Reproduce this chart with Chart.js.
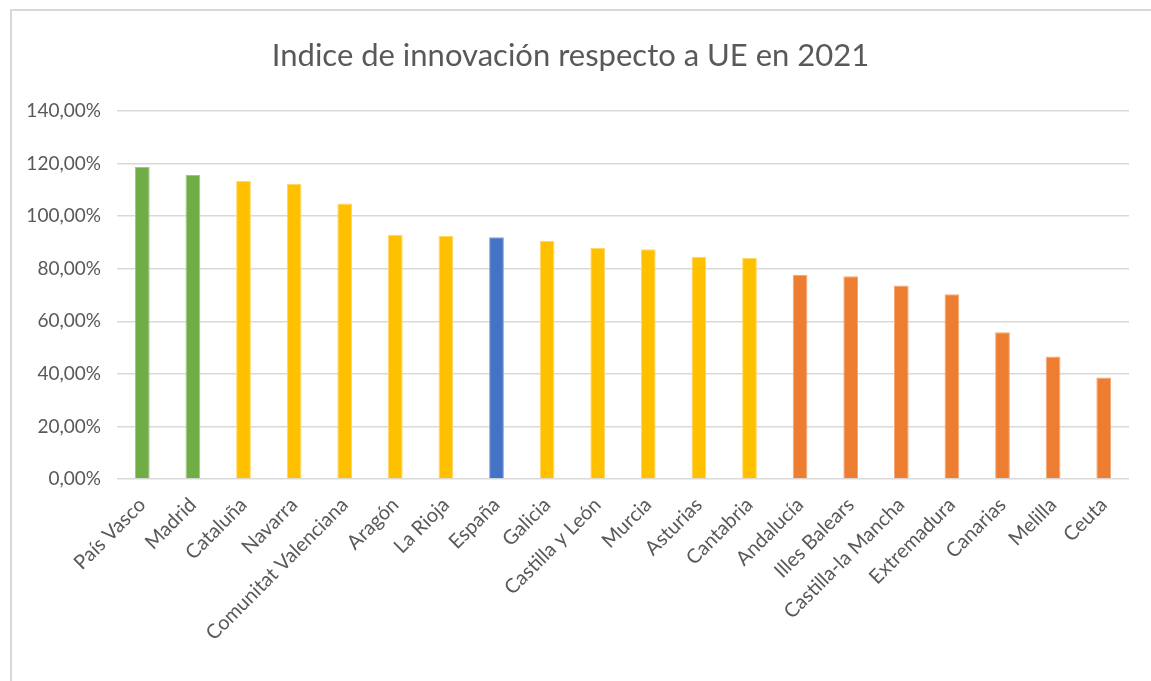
<!DOCTYPE html>
<html>
<head>
<meta charset="utf-8">
<script src="https://cdn.jsdelivr.net/npm/chart.js@4"></script>
<style>
  html, body { margin: 0; padding: 0; background: #fff; }
  #wrap { position: absolute; left: 0; top: 0; width: 1151px; height: 681px; }
  #frame { position: absolute; left: 10px; top: 9px; width: 1141px; height: 672px;
           border-top: 2px solid #d9d9d9; border-left: 2px solid #d9d9d9; box-sizing: border-box; }
</style>
</head>
<body>
<div id="wrap">
  <div id="frame"></div>
  <canvas id="innovChart" width="1151" height="681"></canvas>
</div>
<script>
const regions = ['País Vasco', 'Madrid', 'Cataluña', 'Navarra', 'Comunitat Valenciana', 'Aragón', 'La Rioja',
  'España', 'Galicia', 'Castilla y León', 'Murcia', 'Asturias', 'Cantabria', 'Andalucía', 'Illes Balears',
  'Castilla-la Mancha', 'Extremadura', 'Canarias', 'Melilla', 'Ceuta'];
const index2021 = [118.8, 115.7, 113.4, 112.3, 104.9, 93.0, 92.5, 92.0, 90.6, 88.0, 87.5, 84.6, 84.1,
  77.7, 77.2, 73.7, 70.3, 55.9, 46.6, 38.6];
const groups = ['top', 'top', 'mid', 'mid', 'mid', 'mid', 'mid', 'spain', 'mid', 'mid', 'mid', 'mid', 'mid',
  'low', 'low', 'low', 'low', 'low', 'low', 'low'];
const yTicks = [0, 20, 40, 60, 80, 100, 120, 140];

const groupColors = { top: '#70AD47', mid: '#FFC000', spain: '#4472C4', low: '#ED7D31' };
const groupBorders = { top: '#9cc97f', mid: '#ffd766', spain: '#7f9fd8', low: '#f4a774' };

document.addEventListener('DOMContentLoaded', function () {
  const ctx = document.getElementById('innovChart');
  new Chart(ctx, {
    type: 'bar',
    data: {
      labels: regions,
      datasets: [{
        label: 'Indice',
        data: index2021,
        backgroundColor: groups.map(g => groupColors[g]),
        borderColor: groups.map(g => groupBorders[g]),
        borderWidth: 1,
        categoryPercentage: 0.56,
        barPercentage: 0.52
      }]
    },
    options: {
      responsive: false,
      animation: false,
      layout: { padding: { left: 12, right: 22, top: 0, bottom: 0 } },
      plugins: {
        legend: { display: false },
        tooltip: { enabled: false },
        title: {
          display: true,
          text: 'Indice de innovación respecto a UE en 2021',
          color: '#595959',
          font: { family: 'Lato', size: 31, weight: 'normal' },
          padding: { top: 37, bottom: 37 }
        }
      },
      scales: {
        x: {
          grid: { display: false },
          border: { display: false },
          ticks: {
            color: '#595959',
            font: { family: 'Lato', size: 20 },
            minRotation: 45,
            maxRotation: 45,
            autoSkip: false,
            padding: 6
          },
          afterFit: function (scale) { scale.height = 202; }
        },
        y: {
          min: 0,
          max: 140,
          afterBuildTicks: function (scale) { scale.ticks = yTicks.map(v => ({ value: v })); },
          grid: { color: '#d9d9d9', lineWidth: 1.6, drawTicks: false },
          border: { display: false },
          ticks: {
            color: '#595959',
            font: { family: 'Lato', size: 19 },
            padding: 16,
            callback: v => v.toFixed(2).replace('.', ',') + '%'
          },
          afterFit: function (scale) { scale.width = 105; }
        }
      }
    }
  });
});
</script>
</body>
</html>
